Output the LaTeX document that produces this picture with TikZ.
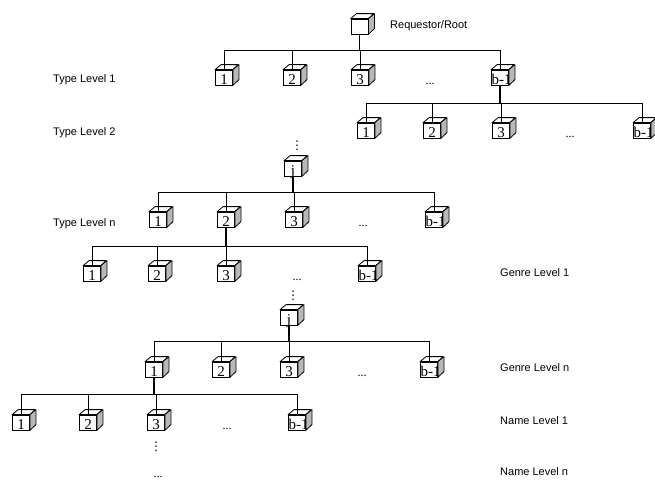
\documentclass[tikz,border=0pt]{standalone}
\usepackage{fontspec}
\setmainfont{Liberation Serif}
\newfontfamily\lblfont{Liberation Sans}
\newfontfamily\symfont{DejaVu Sans}
\usepackage{xcolor}
\usetikzlibrary{calc}
\definecolor{sidegray}{gray}{0.72}
\tikzset{
  bx/.style={draw,line width=0.8pt,fill=white,minimum width=17pt,minimum height=15pt,inner sep=0pt},
  bxtop/.style={draw,line width=0.8pt,fill=white,line join=round},
  bxside/.style={draw,line width=0.8pt,fill=sidegray,line join=round},
  bxlbl/.style={font=\fontsize{15}{15}\selectfont,inner sep=0pt,anchor=base},
  lnk/.style={line width=0.8pt},
  stem/.style={line width=1.8pt},
  lvl/.style={font=\lblfont\fontsize{11}{13}\selectfont,anchor=base west,inner sep=0pt},
  gap/.style={font=\fontsize{12}{12}\selectfont,inner sep=0pt,anchor=base},
  vgap/.style={inner sep=0pt,font=\symfont\fontsize{12}{12}\selectfont}
}
% cube: [text shift], name, front centre, text
\newcommand{\cube}[4][0pt]{%
  \node[bx] (#2) at (#3) {};
  \draw[bxtop] (#2.north west) -- ++(6pt,5pt) -- ++(17pt,0pt) -- (#2.north east) -- cycle;
  \draw[bxside] (#2.north east) -- ++(6pt,5pt) -- ++(0pt,-15pt) -- (#2.south east) -- cycle;
  \node[bxlbl] at ([xshift=#1,yshift=0.5pt]#2.south) {#4};
}

\begin{document}
\begin{tikzpicture}[x=1pt,y=-1pt]
\useasboundingbox (0,0) rectangle (655,479);

% level labels
\node[lvl] (lroot) at (390,28) {Requestor/Root};
\node[lvl] (lt1) at (53,82) {Type Level 1};
\node[lvl] (lt2) at (53,135) {Type Level 2};
\node[lvl] (ltn) at (53,226) {Type Level n};
\node[lvl] (lg1) at (500,276) {Genre Level 1};
\node[lvl] (lgn) at (500,371) {Genre Level n};
\node[lvl] (ln1) at (500,424) {Name Level 1};
\node[lvl] (lnn) at (500,475) {Name Level n};

% root and type level 1
\cube{r0}{359.5,26.5}{}
\cube{t1a}{224,77.5}{1}
\cube{t1b}{292,77.5}{2}
\cube{t1c}{360,77.5}{3}
\cube[1.5pt]{t1e}{500,77.5}{b-1}
\node[gap] (d1) at (430,84.5) {...};

% type level 2
\cube{t2a}{366,130.5}{1}
\cube{t2b}{432,130.5}{2}
\cube{t2c}{501,130.5}{3}
\cube[1.5pt]{t2e}{642,130.5}{b-1}
\node[gap] (d2) at (570,137.5) {...};

% type level n
\node[vgap] (v1) at (297,146) {⋮};
\cube{jt}{293,168.5}{j}
\cube{tna}{158,219.5}{1}
\cube{tnb}{226,219.5}{2}
\cube{tnc}{294,219.5}{3}
\cube[1.5pt]{tne}{434,219.5}{b-1}
\node[gap] (d3) at (363,226.5) {...};

% genre level 1
\cube{g1a}{92,273.5}{1}
\cube{g1b}{157,273.5}{2}
\cube{g1c}{226,273.5}{3}
\cube[1.5pt]{g1e}{367,273.5}{b-1}
\node[gap] (d4) at (297,280.5) {...};

% genre level n
\node[vgap] (v2) at (293,296) {⋮};
\cube{jg}{289,317.5}{j}
\cube{gna}{154,369.5}{1}
\cube{gnb}{221,369.5}{2}
\cube{gnc}{289,369.5}{3}
\cube[1.5pt]{gne}{429,369.5}{b-1}
\node[gap] (d5) at (362,376.5) {...};

% name level 1
\cube{n1a}{21,422.5}{1}
\cube{n1b}{88,422.5}{2}
\cube{n1c}{156,422.5}{3}
\cube[1.5pt]{n1e}{297,422.5}{b-1}
\node[gap] (d6) at (227,429.5) {...};
\node[vgap] (v3) at (156,447) {⋮};
\node[gap] (d7) at (158,477) {...};

% buses
\coordinate (b1) at (0,50);
\coordinate (b2) at (0,103);
\coordinate (b3) at (0,192);
\coordinate (b4) at (0,246);
\coordinate (b5) at (0,341);
\coordinate (b6) at (0,394);

\draw[lnk] (t1a.north |- b1) -- (t1e.north |- b1);
\foreach \c in {t1a,t1b,t1c,t1e} \draw[lnk] (\c.north) -- (\c.north |- b1);
\draw[stem] (r0.south) -- (r0.south |- b1);

\draw[lnk] (t2a.north |- b2) -- (t2e.north |- b2);
\foreach \c in {t2a,t2b,t2c,t2e} \draw[lnk] (\c.north) -- (\c.north |- b2);
\draw[stem] (t1e.south) -- (t1e.south |- b2);

\draw[lnk] (tna.north |- b3) -- (tne.north |- b3);
\foreach \c in {tna,tnb,tnc,tne} \draw[lnk] (\c.north) -- (\c.north |- b3);
\draw[stem] (jt.south) -- (jt.south |- b3);

\draw[lnk] (g1a.north |- b4) -- (g1e.north |- b4);
\foreach \c in {g1a,g1b,g1c,g1e} \draw[lnk] (\c.north) -- (\c.north |- b4);
\draw[stem] (tnb.south) -- (tnb.south |- b4);

\draw[lnk] (gna.north |- b5) -- (gne.north |- b5);
\foreach \c in {gna,gnb,gnc,gne} \draw[lnk] (\c.north) -- (\c.north |- b5);
\draw[stem] (jg.south) -- (jg.south |- b5);

\draw[lnk] (n1a.north |- b6) -- (n1e.north |- b6);
\foreach \c in {n1a,n1b,n1c,n1e} \draw[lnk] (\c.north) -- (\c.north |- b6);
\draw[stem] (gna.south) -- (gna.south |- b6);
\end{tikzpicture}
\end{document}
